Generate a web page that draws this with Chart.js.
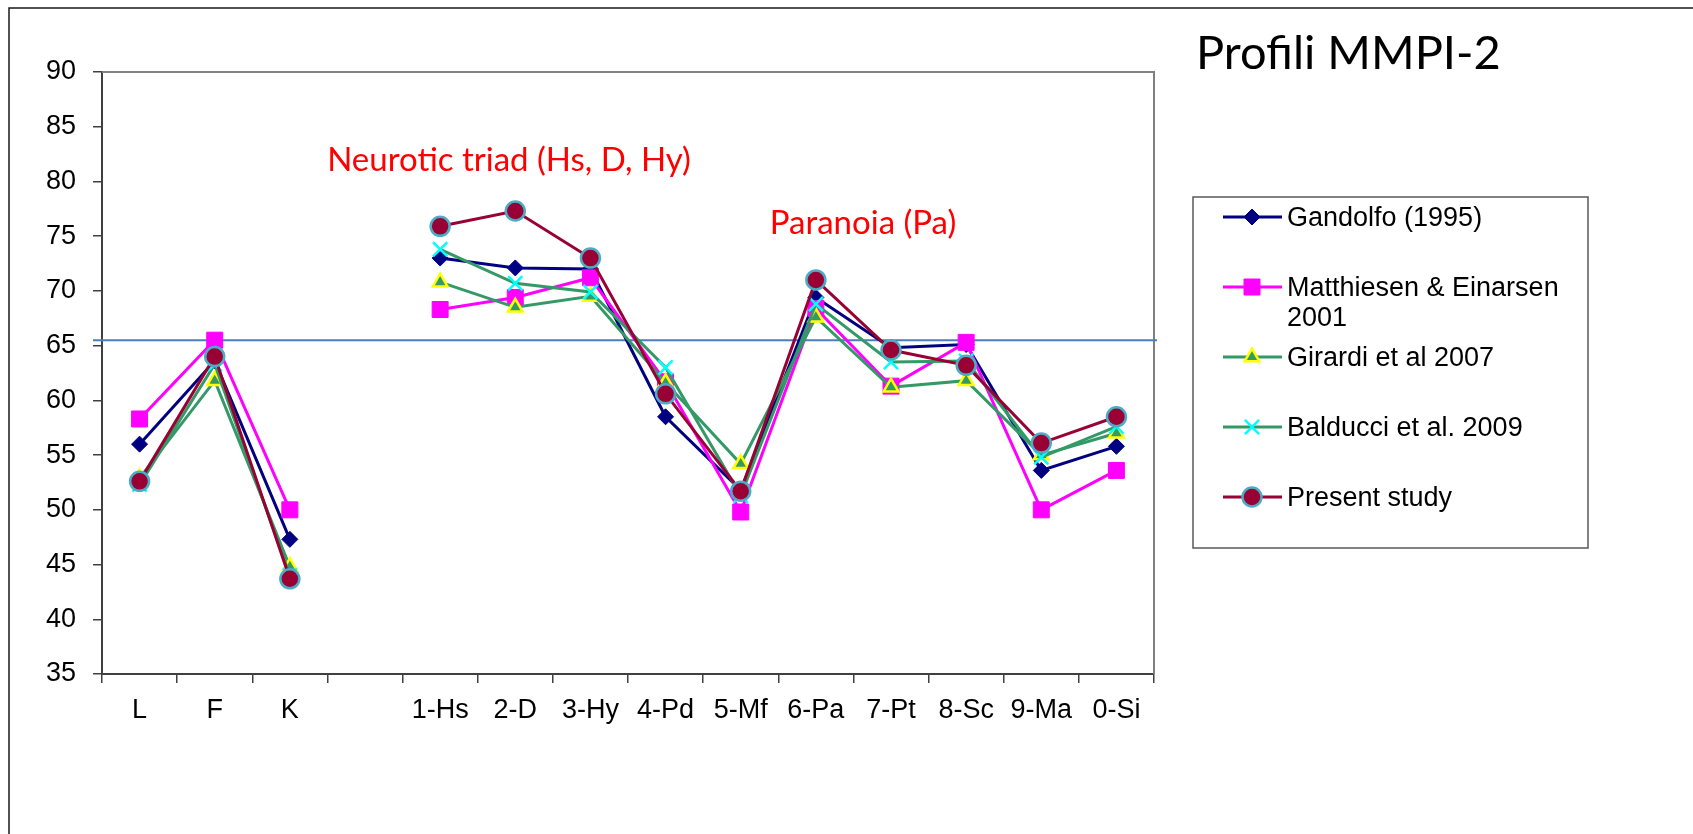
<!DOCTYPE html>
<html>
<head>
<meta charset="utf-8">
<title>Profili MMPI-2</title>
<script src="https://cdn.jsdelivr.net/npm/chart.js"></script>
<style>
  body { margin: 0; background: #fff; }
  #chart-wrap { width: 1693px; height: 834px; }
</style>
</head>
<body>
<div id="chart-wrap"><canvas id="mmpi-chart" width="1693" height="834"></canvas></div>
<script>
// MMPI-2 profiles (T scores), validity scales then clinical scales
const scales = ['L', 'F', 'K', '', '1-Hs', '2-D', '3-Hy', '4-Pd', '5-Mf', '6-Pa', '7-Pt', '8-Sc', '9-Ma', '0-Si'];

const gandolfo   = [56.0, 63.6, 47.3, null, 73.0, 72.1, 72.0, 58.5, 51.8, 69.4, 64.8, 65.1, 53.6, 55.8];
const matthiesen = [58.3, 65.5, 50.0, null, 68.3, 69.4, 71.2, 61.7, 49.8, 68.4, 61.3, 65.3, 50.0, 53.6];
const girardi    = [52.9, 61.8, 44.8, null, 70.8, 68.5, 69.5, 61.6, 54.2, 67.6, 61.2, 61.8, 55.0, 57.0];
const balducci   = [52.3, 63.3, 44.0, null, 73.8, 70.7, 69.9, 63.0, 51.3, 68.8, 63.5, 63.6, 54.8, 57.6];
const present    = [52.6, 64.0, 43.7, null, 75.9, 77.3, 73.0, 60.6, 51.7, 71.0, 64.6, 63.2, 56.1, 58.5];

const yMin = 35, yMax = 90, yStep = 5;
const cutoff = 65.5;

const title = 'Profili MMPI-2';
const notes = [
    { text: 'Neurotic triad (Hs, D, Hy)', x: 509, y: 171 },
    { text: 'Paranoia (Pa)', x: 863, y: 234 }
];

const axisFont = { family: '"Liberation Sans", Arial, sans-serif', size: 27 };

function series(label, data, line, marker) {
    return {
        label,
        legendLines: label.split('\n'),
        data,
        borderColor: line,
        borderWidth: 3,
        tension: 0,
        spanGaps: false,
        clip: false,
        ...marker
    };
}

const datasets = [
    series('Gandolfo (1995)', gandolfo, '#000080', {
        pointStyle: 'rectRot', pointRadius: 8, pointBackgroundColor: '#000080',
        pointBorderColor: '#000080', pointBorderWidth: 1, order: 4
    }),
    series('Matthiesen & Einarsen\n2001', matthiesen, '#FF00FF', {
        pointStyle: 'rect', pointRadius: 11.3, pointBackgroundColor: '#FF00FF',
        pointBorderColor: '#FF00FF', pointBorderWidth: 1, order: 3
    }),
    series('Girardi et al 2007', girardi, '#339966', {
        pointStyle: 'triangle', pointRadius: 8.5, pointBackgroundColor: '#339966',
        pointBorderColor: '#FFFF00', pointBorderWidth: 2.5, order: 2
    }),
    series('Balducci et al. 2009', balducci, '#339966', {
        pointStyle: 'crossRot', pointRadius: 10, pointBackgroundColor: '#00FFFF',
        pointBorderColor: '#00FFFF', pointBorderWidth: 2.5, order: 1
    }),
    series('Present study', present, '#990033', {
        pointStyle: 'circle', pointRadius: 9.5, pointBackgroundColor: '#990033',
        pointBorderColor: '#4BACC6', pointBorderWidth: 2.5, order: 0
    })
];

const decorations = {
    id: 'decorations',
    beforeDatasetsDraw(chart) {
        const { ctx, chartArea: a } = chart;
        const y = chart.scales.y;
        ctx.save();
        // grey top/right edges of the plot area
        ctx.strokeStyle = '#808080';
        ctx.lineWidth = 2;
        ctx.beginPath();
        ctx.moveTo(a.left, a.top);
        ctx.lineTo(a.right, a.top);
        ctx.lineTo(a.right, a.bottom);
        ctx.stroke();
        // cut-off line
        const yc = y.getPixelForValue(cutoff);
        ctx.strokeStyle = '#4A7EBB';
        ctx.lineWidth = 2;
        ctx.beginPath();
        ctx.moveTo(a.left - 9, yc);
        ctx.lineTo(a.right + 3, yc);
        ctx.stroke();
        ctx.restore();
    },
    afterDraw(chart) {
        const { ctx } = chart;
        ctx.save();
        // outer frame (top and left only)
        ctx.strokeStyle = '#1a1a1a';
        ctx.lineWidth = 1.5;
        ctx.beginPath();
        ctx.moveTo(9, 834);
        ctx.lineTo(9, 8);
        ctx.lineTo(1693, 8);
        ctx.stroke();

        ctx.fillStyle = '#000';
        ctx.textBaseline = 'alphabetic';
        ctx.textAlign = 'left';
        ctx.font = '47px Lato, "Open Sans", sans-serif';
        ctx.fillText(title, 1196, 69);

        ctx.fillStyle = '#FF0000';
        ctx.textAlign = 'center';
        ctx.font = '33px Lato, "Open Sans", sans-serif';
        notes.forEach(n => ctx.fillText(n.text, n.x, n.y));

        drawLegend(chart);
        ctx.restore();
    }
};

function drawLegend(chart) {
    const ctx = chart.ctx;
    ctx.strokeStyle = '#595959';
    ctx.lineWidth = 1.5;
    ctx.strokeRect(1193, 197, 395, 351);

    ctx.font = `${axisFont.size}px ${axisFont.family}`;
    ctx.textAlign = 'left';
    ctx.textBaseline = 'middle';
    chart.data.datasets.forEach((ds, i) => {
        const cy = 217 + i * 70;
        ctx.strokeStyle = ds.borderColor;
        ctx.lineWidth = 3;
        ctx.beginPath();
        ctx.moveTo(1223, cy);
        ctx.lineTo(1282, cy);
        ctx.stroke();

        ctx.fillStyle = ds.pointBackgroundColor;
        ctx.strokeStyle = ds.pointBorderColor;
        ctx.lineWidth = ds.pointBorderWidth;
        Chart.helpers.drawPoint(ctx, {
            pointStyle: ds.pointStyle, radius: ds.pointRadius,
            borderWidth: ds.pointBorderWidth, rotation: 0
        }, 1252, cy);

        ctx.fillStyle = '#000';
        ds.legendLines.forEach((t, j) => ctx.fillText(t, 1287, cy + 2 + j * 30));
    });
}

new Chart(document.getElementById('mmpi-chart'), {
    type: 'line',
    data: { labels: scales, datasets },
    options: {
        responsive: false,
        animation: false,
        devicePixelRatio: 1,
        layout: { padding: { left: 0, top: 72, right: 539, bottom: 100 } },
        plugins: { legend: { display: false }, tooltip: { enabled: false } },
        scales: {
            x: {
                type: 'category',
                offset: true,
                grid: { display: true, offset: true, drawOnChartArea: false, tickLength: 9, color: '#404040', lineWidth: 1.5 },
                border: { display: true, color: '#404040', width: 2 },
                ticks: { color: '#000', font: axisFont, padding: 11, maxRotation: 0, autoSkip: false },
                afterFit(scale) { scale.height = 60; }
            },
            y: {
                min: yMin,
                max: yMax,
                grid: { display: true, drawOnChartArea: false, tickLength: 9, color: '#404040', lineWidth: 1.5 },
                border: { display: true, color: '#404040', width: 2 },
                ticks: { stepSize: yStep, color: '#000', font: axisFont, padding: 17 },
                afterFit(scale) { scale.width = 102; }
            }
        }
    },
    plugins: [decorations]
});
</script>
</body>
</html>
